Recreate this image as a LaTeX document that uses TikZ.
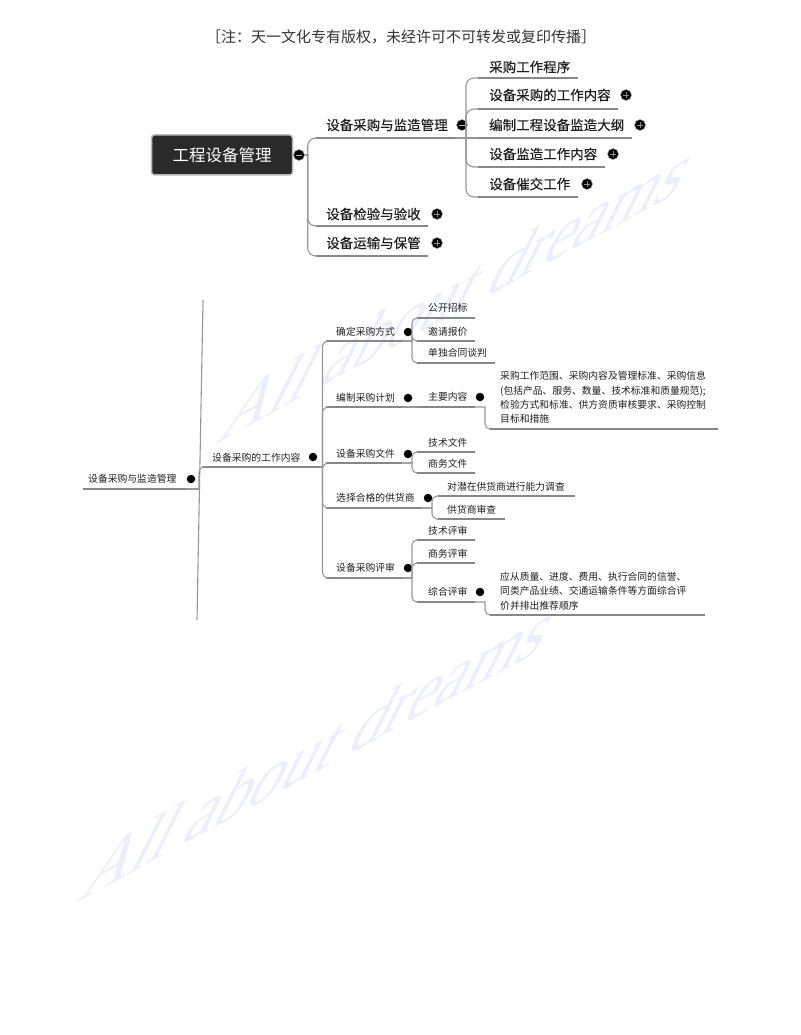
\documentclass[tikz,border=0pt]{standalone}
\usepackage{fontspec}
\newfontfamily\cjk{Noto Sans CJK SC}
\newfontfamily\cjkb[FakeBold=0.35]{Noto Sans CJK SC}
\newfontfamily\wmfont{Liberation Serif}
\usetikzlibrary{calc}
\definecolor{ulc}{RGB}{135,135,135}
\definecolor{cnc}{RGB}{150,150,150}
\definecolor{wmc}{RGB}{234,239,249}
\definecolor{rootfill}{RGB}{42,42,42}
\definecolor{txt}{RGB}{30,30,30}
\newcommand\mmline[2]{\draw[ulline] (#1) -- (#2);}
\begin{document}
\begin{tikzpicture}[x=1pt,y=-1pt,
  wm/.style={font=\wmfont\fontsize{10}{10}\selectfont, text=wmc, anchor=base west, inner sep=0, cm={6.68,3.63,4.3,8.5,(0,0)}},
  hdr/.style={font=\cjk\fontsize{15}{18}\selectfont, text=black!80, inner sep=0},
  root/.style={fill=rootfill, draw=gray!55, line width=1.5pt, rounded corners=3pt, minimum width=141pt, minimum height=40pt, text=white, font=\cjk\fontsize{16.5}{20}\selectfont},
  t1/.style={font=\cjkb\fontsize{13.5}{16}\selectfont, anchor=west, inner sep=0, text=txt},
  t2/.style={font=\cjk\fontsize{9.8}{14.3}\selectfont, anchor=west, inner sep=0, text=txt},
  ulline/.style={draw=ulc, line width=2.2pt},
  ultop/.style={draw=ulc, line width=2.6pt},
  cn/.style={draw=cnc, line width=1.1pt},
  dotbig/.style={circle, fill=black, draw=gray!70, line width=0.5pt, minimum size=11pt, inner sep=0},
  dotsm/.style={circle, fill=black, minimum size=8.5pt, inner sep=0},
  minus/.style={path picture={\draw[gray!60, line width=0.8pt] ($(path picture bounding box.center)+(-2.8,0)$) -- ++(5.6,0);}},
  plus/.style={path picture={\draw[black!45, line width=0.6pt] ($(path picture bounding box.center)+(-2.6,0)$) -- ++(5.2,0) ($(path picture bounding box.center)+(0,-2.6)$) -- ++(0,5.2);}},
]
\useasboundingbox (0,0) rectangle (800,1035);
% watermarks
\node[wm] (wm1) at (214,445) {All about dreams};
\node[wm] (wm2) at (76,903) {All about dreams};

% header
\node[hdr] (head) at (401,37) {［注：天一文化专有版权，未经许可不可转发或复印传播］};

% ===== top map =====
\node[root] (root) at (222,155) {工程设备管理};
\node[dotbig, minus] (d0) at (299,155) {};

\node[t1] (a) at (326,125) {设备采购与监造管理};
\coordinate (aL) at (316,138); \coordinate (aR) at (455,138);
\node[dotbig, minus] (da) at (462,125) {};
\node[t1] (b) at (326,214) {设备检验与验收};
\coordinate (bL) at (316,226); \coordinate (bR) at (428,226);
\node[dotbig, plus] (db) at (437,214) {};
\node[t1] (c) at (326,243) {设备运输与保管};
\coordinate (cL) at (316,256); \coordinate (cR) at (428,256);
\node[dotbig, plus] (dc) at (437,243) {};

\draw[ultop] (aL) -- (aR); \draw[ultop] (bL) -- (bR); \draw[ultop] (cL) -- (cR);
\foreach \t in {aL,bL,cL}{\draw[cn] (d0.east) -- ++(3,0) [rounded corners=8pt] |- (\t);}

\node[t1] (e1) at (489,67) {采购工作程序};
\coordinate (e1L) at (478,78); \coordinate (e1R) at (578,78);
\node[t1] (e2) at (489,95) {设备采购的工作内容};
\coordinate (e2L) at (478,109); \coordinate (e2R) at (618,109);
\node[dotbig, plus] (de2) at (626,95) {};
\node[t1] (e3) at (489,125) {编制工程设备监造大纲};
\coordinate (e3L) at (478,138); \coordinate (e3R) at (632,138);
\node[dotbig, plus] (de3) at (640,125) {};
\node[t1] (e4) at (489,154) {设备监造工作内容};
\coordinate (e4L) at (478,167); \coordinate (e4R) at (605,167);
\node[dotbig, plus] (de4) at (613,154) {};
\node[t1] (e5) at (489,184) {设备催交工作};
\coordinate (e5L) at (478,197); \coordinate (e5R) at (578,197);
\node[dotbig, plus] (de5) at (587,184) {};
\foreach \s in {1,...,5}{\draw[ultop] (e\s L) -- (e\s R);}
\foreach \s in {1,2,4,5}{\draw[cn] (aR) -- ++(11,0) [rounded corners=8pt] |- (e\s L);}
\draw[cn] (aR) -- (e3L);

% ===== bottom map =====
\node[t2] (p) at (88,479) {设备采购与监造管理};
\coordinate (pL) at (83,489); \coordinate (pR) at (186,489);
\node[dotsm] (dp) at (191,479) {};
\mmline{pL}{pR}
\coordinate (wtop) at (203,300); \coordinate (wbot) at (197,620);
\draw[cn] (wtop) -- (wbot);
\draw[cn] (pR) -- (199,489);

\node[t2] (q) at (212,458) {设备采购的工作内容};
\coordinate (qL) at (202,467); \coordinate (qR) at (320,467);
\node[dotsm] (dq) at (313,457) {};
\mmline{qL}{qR}
\draw[cn] (pR) -- ++(13,0) [rounded corners=5pt] |- (qL);

\node[t2] (r1) at (336,332) {确定采购方式};
\coordinate (r1L) at (326,341); \coordinate (r1R) at (402,341);
\node[dotsm] (dr1) at (408,332) {};
\node[t2] (r2) at (336,398) {编制采购计划};
\coordinate (r2L) at (326,407); \coordinate (r2R) at (402,407);
\node[dotsm] (dr2) at (408,398) {};
\node[t2] (r3) at (336,454) {设备采购文件};
\coordinate (r3L) at (326,463); \coordinate (r3R) at (402,463);
\node[dotsm] (dr3) at (408,454) {};
\node[t2] (r4) at (336,498) {选择合格的供货商};
\coordinate (r4L) at (326,508); \coordinate (r4R) at (422,508);
\node[dotsm] (dr4) at (428,498) {};
\node[t2] (r5) at (336,568) {设备采购评审};
\coordinate (r5L) at (326,578); \coordinate (r5R) at (402,578);
\node[dotsm] (dr5) at (408,568) {};
\foreach \s in {1,...,5}{\mmline{r\s L}{r\s R}\draw[cn] (qR) -- ++(2.5,0) [rounded corners=6pt] |- (r\s L);}

% level 4
\node[t2] (s1) at (428,308) {公开招标};
\coordinate (s1L) at (417,318); \coordinate (s1R) at (475,318);
\node[t2] (s2) at (428,332) {邀请报价};
\coordinate (s2L) at (417,341); \coordinate (s2R) at (475,341);
\node[t2] (s3) at (428,353) {单独合同谈判};
\coordinate (s3L) at (417,363); \coordinate (s3R) at (495,363);
\foreach \s in {1,2,3}{\mmline{s\s L}{s\s R}\draw[cn] (r1R) -- ++(10,0) [rounded corners=5pt] |- (s\s L);}

\node[t2] (tm) at (428,397) {主要内容};
\coordinate (tmL) at (420,407); \coordinate (tmR) at (475,407);
\node[dotsm] (dtm) at (480,397) {};
\mmline{tmL}{tmR}
\draw[cn] (r2R) -- (tmL);
\node[t2, align=left] (tx) at (500,397.5) {采购工作范围、采购内容及管理标准、采购信息\\(包括产品、服务、数量、技术标准和质量规范);\\检验方式和标准、供方资质审核要求、采购控制\\目标和措施};
\coordinate (txL) at (490,429); \coordinate (txR) at (718,429);
\mmline{txL}{txR}
\draw[cn] (tmR) -- ++(10,0) [rounded corners=5pt] |- (txL);

\node[t2] (u1) at (428,443) {技术文件};
\coordinate (u1L) at (417,452); \coordinate (u1R) at (475,452);
\node[t2] (u2) at (428,464) {商务文件};
\coordinate (u2L) at (417,473); \coordinate (u2R) at (475,473);
\foreach \s in {1,2}{\mmline{u\s L}{u\s R}\draw[cn] (r3R) -- ++(10,0) [rounded corners=5pt] |- (u\s L);}

\node[t2] (v1) at (447,487) {对潜在供货商进行能力调查};
\coordinate (v1L) at (438,496); \coordinate (v1R) at (575,496);
\node[t2] (v2) at (447,510) {供货商审查};
\coordinate (v2L) at (438,519); \coordinate (v2R) at (505,519);
\foreach \s in {1,2}{\mmline{v\s L}{v\s R}\draw[cn] (r4R) -- ++(10,0) [rounded corners=5pt] |- (v\s L);}

\node[t2] (w1) at (428,531) {技术评审};
\coordinate (w1L) at (417,540); \coordinate (w1R) at (475,540);
\node[t2] (w2) at (428,554) {商务评审};
\coordinate (w2L) at (417,563); \coordinate (w2R) at (475,563);
\node[t2] (w3) at (428,592) {综合评审};
\coordinate (w3L) at (417,602); \coordinate (w3R) at (475,602);
\node[dotsm] (dw3) at (480,592) {};
\foreach \s in {1,2,3}{\mmline{w\s L}{w\s R}\draw[cn] (r5R) -- ++(10,0) [rounded corners=5pt] |- (w\s L);}

\node[t2, align=left] (wx) at (500,591) {应从质量、进度、费用、执行合同的信誉、\\同类产品业绩、交通运输条件等方面综合评\\价并排出推荐顺序};
\coordinate (wxL) at (490,615); \coordinate (wxR) at (705,615);
\mmline{wxL}{wxR}
\draw[cn] (w3R) -- ++(10,0) [rounded corners=5pt] |- (wxL);
\end{tikzpicture}
\end{document}
